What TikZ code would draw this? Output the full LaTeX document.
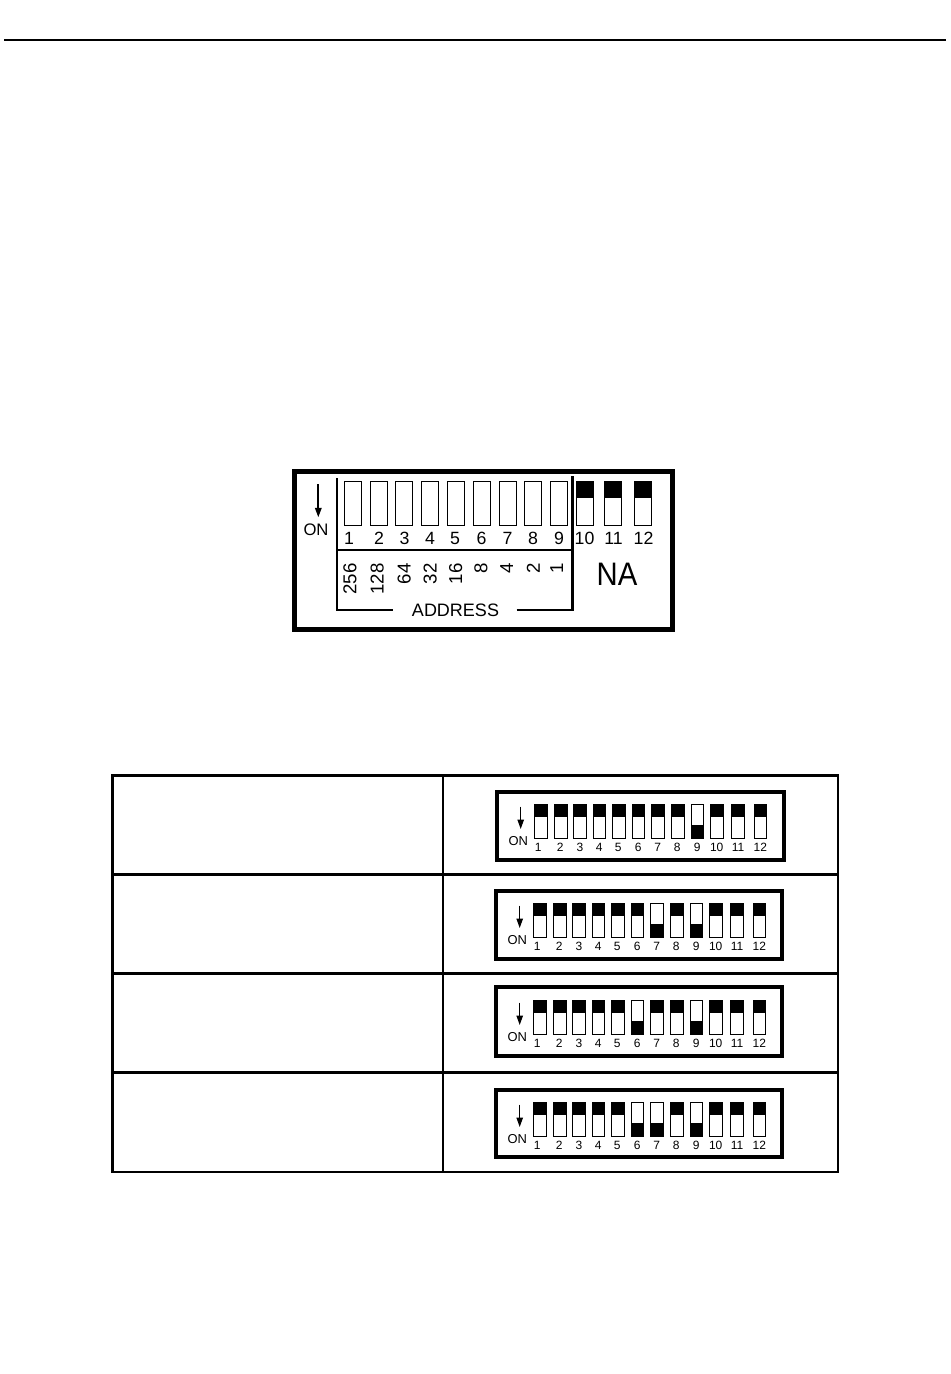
\documentclass[tikz,border=0pt]{standalone}
\usepackage{fontspec}
\setmainfont{Liberation Sans}
\usetikzlibrary{arrows.meta}
\tikzset{
  x=0.75pt,y=-0.75pt,
  rulethick/.style={line width=1.6pt,line cap=butt},
  tableline/.style={line width=1.6pt,line cap=rect},
  frame/.style={draw=black,line width=#1,fill=white},
  sw/.style={draw=black,line width=0.75pt,fill=white},
  swblack/.style={fill=black},
  biglab/.style={inner sep=0pt,font=\fontsize{13.3}{14}\selectfont},
  smalllab/.style={inner sep=0pt,font=\fontsize{9}{10}\selectfont},
  rotlab/.style={inner sep=0pt,rotate=90,anchor=east,font=\fontsize{14}{15}\selectfont},
  onarrow/.style={draw=black,line width=#1,-{Triangle[length=9.5*0.75pt,width=6.5*0.75pt]}},
}
\newcommand{\dipbox}[8]{%
  % #1 prefix, #2 dx, #3 dy, #4 frame top, #5 frame bottom, #6 frame left, #7 frame right, #8 states
  \draw[frame=3pt] (#6,#4) rectangle (#7,#5);
  \begin{scope}[shift={(#2,#3)}]
    \foreach \a/\b/\lx/\i in {534.3/547.7/538.3/1,554.3/567/560.3/2,573.3/586/580/3,593/605.7/599.3/4,612.3/625/618.3/5,632/644.7/638.3/6,651.3/664/657.7/7,671.3/684/677.3/8,691.3/703.3/697.3/9,710.3/723.7/716.7/10,731/744.3/738/11,754/766.7/760.3/12}{
      \pgfmathtruncatemacro{\st}{{#8}[\i-1]}
      \draw[sw] (\a,804) rectangle (\b,838.7);
      \ifnum\st=0
        \fill[swblack] (\a,804) rectangle (\b,817.3);
      \else
        \fill[swblack] (\a,825) rectangle (\b,838.7);
      \fi
      \node[smalllab] (#1n\i) at (\lx,847.7) {\i};
    }
    \coordinate (#1a) at (520.7,806.7);
    \coordinate (#1b) at (520.7,829);
    \draw[onarrow=0.9pt] (#1a) -- (#1b);
    \node[inner sep=0pt,font=\fontsize{9.7}{10}\selectfont] (#1on) at (518.3,841) {ON};
  \end{scope}
}
\begin{document}
\begin{tikzpicture}
\useasboundingbox (0,0) rectangle (950,1374);
\fill[white] (0,0) rectangle (950,1374);

% top rule
\coordinate (ruleL) at (4,40);
\coordinate (ruleR) at (946,40);
\draw[rulethick] (ruleL) -- (ruleR);

% large switch block
\draw[frame=3.6pt] (294.5,471.5) rectangle (672.5,629.5);
\foreach \a/\b/\lx/\i in {344.5/361.5/349/1,370.5/387.5/379/2,395.5/412.5/404.5/3,421.5/438.5/430/4,447.5/464.5/455/5,473.5/490.5/481.5/6,499.5/516.5/507.5/7,524.5/541.5/533/8,550/567.5/559/9}{
  \draw[sw] (\a,481) rectangle (\b,525.7);
  \node[biglab] (bign\i) at (\lx,538) {\i};
}
\foreach \a/\b/\lx/\i in {576.5/593.5/584.5/10,604.5/621.5/613.5/11,634.5/651/643.5/12}{
  \draw[sw] (\a,481) rectangle (\b,525.7);
  \fill[swblack] (\a,481) rectangle (\b,497.7);
  \node[biglab] (bign\i) at (\lx,538) {\i};
}
\coordinate (bigA) at (318.3,484);
\coordinate (bigB) at (318.3,517.3);
\draw[onarrow=1.3pt] (bigA) -- (bigB);
\node[inner sep=0pt,font=\fontsize{12.5}{13}\selectfont] (bigon) at (316,530) {ON};

% address bracket
\draw[line width=1.6pt] (336.7,478) -- (336.7,610) -- (393,610);
\draw[line width=2.1pt] (516.7,610) -- (572.3,610) -- (572.3,476);
\draw[line width=2.1pt] (336.7,550) -- (572.3,550);
\node[inner sep=0pt,font=\fontsize{13.5}{14}\selectfont] (addr) at (455.5,610) {ADDRESS};
\foreach \x/\t in {350/256,377.3/128,404.3/64,430.3/32,455.7/16,481/8,506.7/4,533.3/2,556.7/1}{
  \node[rotlab] (w\t) at (\x,563) {\t};
}
\node[inner sep=0pt,xscale=0.9,font=\fontsize{24.4}{25}\selectfont] (na) at (617,574) {NA};

% table
\draw[tableline] (112.5,775.5) rectangle (838,1172);
\draw[tableline] (112.5,874.5) -- (838,874.5);
\draw[tableline] (112.5,973.5) -- (838,973.5);
\draw[tableline] (112.5,1072.5) -- (838,1072.5);
\draw[tableline] (443,775.5) -- (443,1172);

\dipbox{p}{0}{0}{792}{859.7}{497}{783.7}{0,0,0,0,0,0,0,0,1,0,0,0}
\dipbox{q}{-1}{99}{891}{958.7}{496}{782}{0,0,0,0,0,0,1,0,1,0,0,0}
\dipbox{r}{-1}{196}{987}{1055.7}{496}{782}{0,0,0,0,0,1,0,0,1,0,0,0}
\dipbox{s}{-1}{298}{1090}{1157}{496}{782}{0,0,0,0,0,1,1,0,1,0,0,0}
\end{tikzpicture}
\end{document}
